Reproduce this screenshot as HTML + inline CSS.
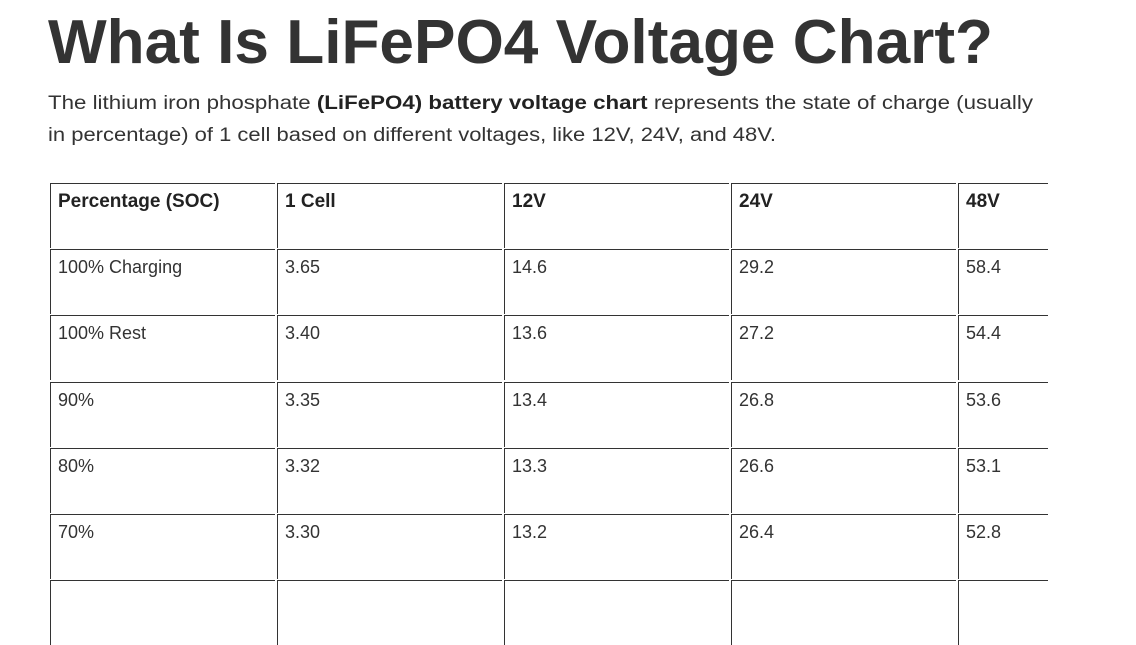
<!DOCTYPE html>
<html><head><meta charset="utf-8"><style>
html,body{margin:0;padding:0;background:#fff;width:1136px;height:586px;overflow:hidden;font-family:"Liberation Sans",Arial,sans-serif;color:#333}
.c{position:absolute;border-top:1px solid #333;border-left:1px solid #333;box-sizing:border-box;height:65px}
.t{position:absolute;font-size:18px;color:#333;white-space:nowrap}
.h{font-weight:bold;font-size:19px;color:#222}
svg{position:absolute;left:0;top:0}
</style></head><body>
<svg width="1136" height="160">
<text x="48" y="63" font-family="Liberation Sans, Arial, sans-serif" font-weight="bold" font-size="62" fill="#333" textLength="945" lengthAdjust="spacingAndGlyphs">What Is LiFePO4 Voltage Chart?</text>
<text x="48" y="109" font-family="Liberation Sans, Arial, sans-serif" font-size="19" fill="#333" textLength="985" lengthAdjust="spacingAndGlyphs">The lithium iron phosphate <tspan font-weight="bold" fill="#222">(LiFePO4) battery voltage chart</tspan> represents the state of charge (usually</text>
<text x="48" y="141" font-family="Liberation Sans, Arial, sans-serif" font-size="19" fill="#333" textLength="728" lengthAdjust="spacingAndGlyphs">in percentage) of 1 cell based on different voltages, like 12V, 24V, and 48V.</text>
</svg>
<div id="tb"></div>
<script>
var cols=[50,277,504,731,958],right=1048;
var rows=[["Percentage (SOC)","1 Cell","12V","24V","48V"],["100% Charging","3.65","14.6","29.2","58.4"],["100% Rest","3.40","13.6","27.2","54.4"],["90%","3.35","13.4","26.8","53.6"],["80%","3.32","13.3","26.6","53.1"],["70%","3.30","13.2","26.4","52.8"],["","","","",""]];
var h="";
for(var r=0;r<rows.length;r++){var y=183+Math.round(r*66.2);
for(var c=0;c<5;c++){var x=cols[c],w=(c<4?cols[c+1]-2:right)-x;
h+='<div class="c" style="left:'+x+'px;top:'+y+'px;width:'+w+'px"></div>';
if(rows[r][c])h+='<div class="t'+(r==0?' h':'')+'" style="left:'+(x+8)+'px;top:'+(y+8)+'px">'+rows[r][c]+'</div>';}}
document.getElementById("tb").innerHTML=h;
</script>
</body></html>
